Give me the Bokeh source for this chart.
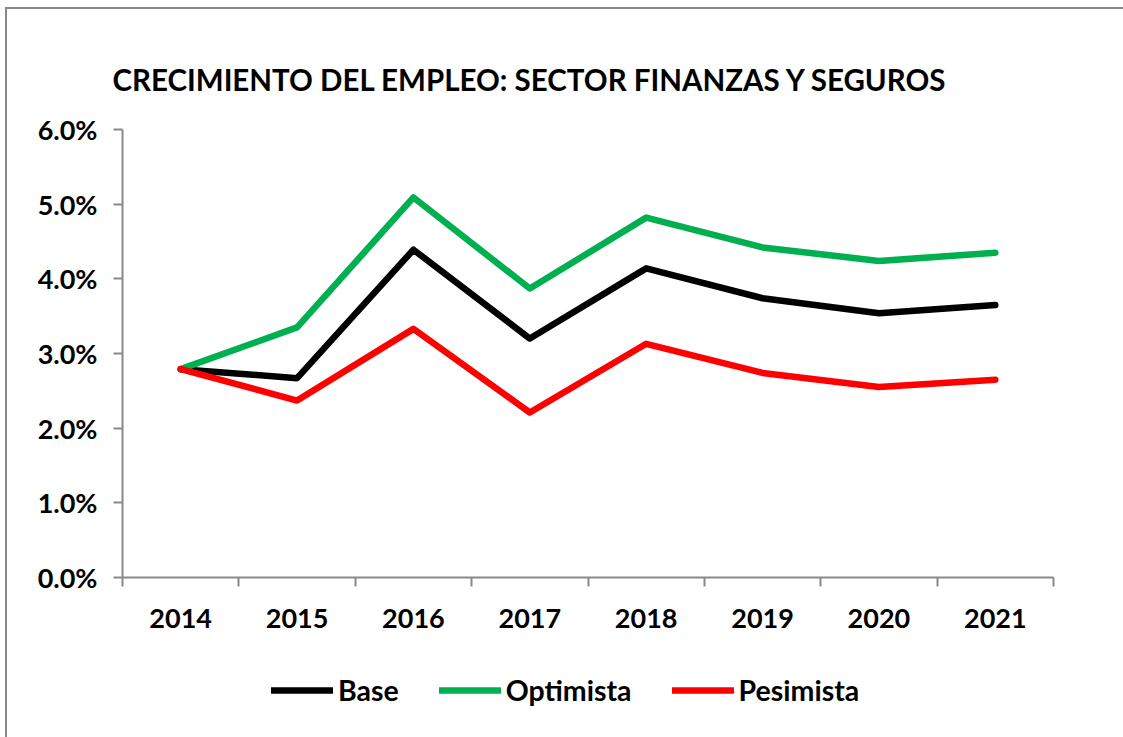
from bokeh.plotting import figure
from bokeh.layouts import column
from bokeh.models import (FixedTicker, NumeralTickFormatter, Legend, LegendItem, Range1d)
from bokeh.embed import file_html
from bokeh.resources import INLINE

years = [2014, 2015, 2016, 2017, 2018, 2019, 2020, 2021]
base = [0.0279, 0.0267, 0.0439, 0.0320, 0.0414, 0.0374, 0.0354, 0.0365]
optimista = [0.0279, 0.0335, 0.0509, 0.0387, 0.0482, 0.0442, 0.0424, 0.0435]
pesimista = [0.0279, 0.0237, 0.0333, 0.0221, 0.0313, 0.0274, 0.0255, 0.0265]
y_ticks = [0.0, 0.01, 0.02, 0.03, 0.04, 0.05, 0.06]
series_names = ["Base", "Optimista", "Pesimista"]
series_colors = ["black", "#00B050", "#FF0000"]

title_text = "CRECIMIENTO DEL EMPLEO: SECTOR FINANZAS Y SEGUROS"
FONT = "Lato"
GRAY = "#898989"
W = 1116

p = figure(width=W, height=650, output_backend="svg", toolbar_location=None,
           x_range=Range1d(years[0] - 0.5, years[-1] + 0.5),
           y_range=Range1d(y_ticks[0], y_ticks[-1]),
           min_border_left=115, min_border_right=70, min_border_top=120, min_border_bottom=82)

p.title.text = title_text
p.title.text_font = FONT
p.title.text_font_size = "29.5px"
p.title.text_font_style = "bold"
p.title.text_color = "black"
p.title.align = "left"
p.title.offset = -10
p.title.standoff = 66

p.grid.visible = False
p.outline_line_color = None
p.background_fill_color = "white"
p.border_fill_color = "white"

# axes
xa = p.xaxis[0]
xa.ticker = FixedTicker(ticks=years, minor_ticks=[y - 0.5 for y in years] + [years[-1] + 0.5])
xa.major_label_overrides = {y: str(y) for y in years}
xa.major_tick_out = 0
xa.major_tick_in = 0
xa.minor_tick_out = 9
xa.minor_tick_in = 0
xa.minor_tick_line_color = GRAY
xa.minor_tick_line_width = 2
xa.axis_line_color = GRAY
xa.axis_line_width = 2
xa.major_label_text_font = FONT
xa.major_label_text_font_size = "27px"
xa.major_label_text_font_style = "bold"
xa.major_label_text_color = "black"
xa.major_label_standoff = 22

ya = p.yaxis[0]
ya.ticker = FixedTicker(ticks=y_ticks, minor_ticks=[])
ya.formatter = NumeralTickFormatter(format="0.0%")
ya.major_tick_out = 9
ya.major_tick_in = 0
ya.major_tick_line_color = GRAY
ya.major_tick_line_width = 2
ya.axis_line_color = GRAY
ya.axis_line_width = 2
ya.major_label_text_font = FONT
ya.major_label_text_font_size = "27px"
ya.major_label_text_font_style = "bold"
ya.major_label_text_color = "black"
ya.major_label_standoff = 16

for vals, color in zip([base, optimista, pesimista], series_colors):
    p.line(years, vals, line_color=color, line_width=6.5, line_cap="round", line_join="round")

# legend strip (separate figure below the chart)
p2 = figure(width=W, height=78, output_backend="svg", toolbar_location=None,
            x_range=Range1d(0, 1), y_range=Range1d(0, 1),
            x_axis_location=None, y_axis_location=None,
            min_border_left=0, min_border_right=0, min_border_top=0, min_border_bottom=0)
p2.grid.visible = False
p2.outline_line_color = None
p2.background_fill_color = "white"
p2.border_fill_color = "white"
nan = float("nan")
items = []
for name, color in zip(series_names, series_colors):
    r = p2.line(x=[nan, nan], y=[nan, nan], line_color=color, line_width=6.5, line_cap="round")
    items.append(LegendItem(label=name, renderers=[r]))
legend = Legend(items=items, orientation="horizontal", location=(149, 30),
                label_text_font=FONT, label_text_font_size="28.5px", label_text_font_style="bold",
                label_text_color="black", glyph_width=62, glyph_height=30, label_standoff=5,
                spacing=40, border_line_color=None, background_fill_alpha=0, margin=0, padding=0)
p2.add_layout(legend, "center")

layout = column(p, p2, spacing=0,
                styles={"margin-left": "5px", "margin-top": "7px",
                        "border-left": "2px solid " + GRAY, "border-top": "2px solid " + GRAY})

open("out.html", "w").write(file_html(layout, INLINE))
